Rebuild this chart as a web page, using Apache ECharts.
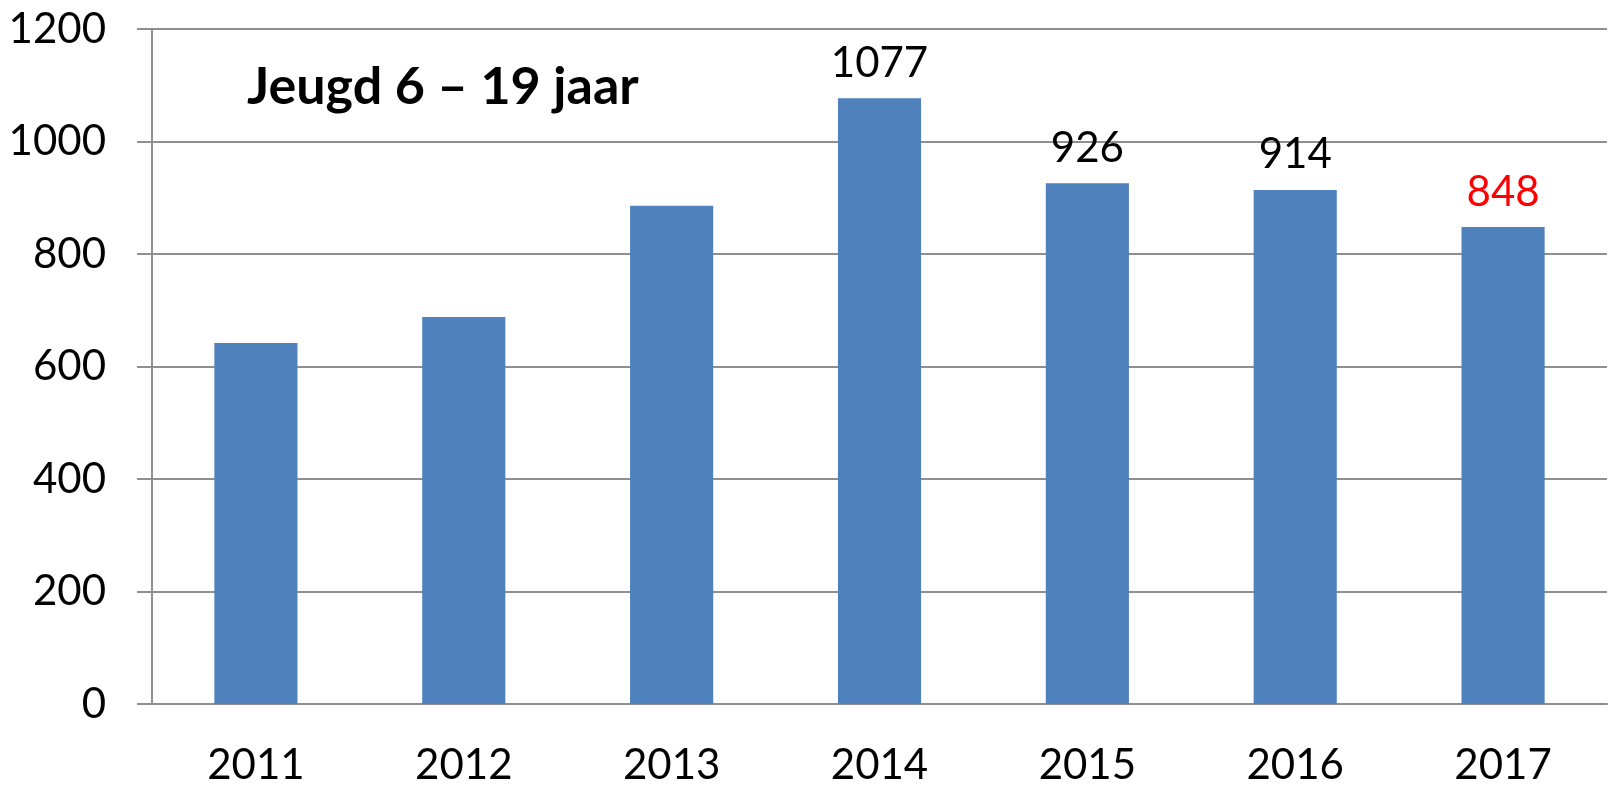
<!DOCTYPE html>
<html>
<head>
<meta charset="utf-8">
<style>
  html, body { margin: 0; padding: 0; background: #fff; }
  #chart { width: 1610px; height: 787px; }
</style>
<script src="https://cdn.jsdelivr.net/npm/echarts@6/dist/echarts.min.js"></script>
</head>
<body>
<div id="chart"></div>
<script>
// chart data
const years = ["2011", "2012", "2013", "2014", "2015", "2016", "2017"];
const members = [642, 688, 886, 1077, 926, 914, 848];
// which bars get a value label, and in which colour
const labelColors = [null, null, null, "#000000", "#000000", "#000000", "#ff0000"];

const font = "Lato, 'Open Sans', sans-serif";
const gridColor = "#8f8f8f";

const chart = echarts.init(document.getElementById("chart"));

chart.setOption({
  animation: false,
  title: {
    text: "Jeugd 6 – 19 jaar",
    left: 242,
    top: 56,
    textStyle: {
      fontFamily: font,
      fontWeight: "bold",
      fontSize: 52,
      color: "#000"
    }
  },
  grid: {
    left: 152,
    right: 3,
    top: 29,
    bottom: 83
  },
  xAxis: {
    type: "category",
    data: years,
    axisLine: { lineStyle: { color: gridColor, width: 2 } },
    axisTick: { length: 15, lineStyle: { color: gridColor, width: 2 } },
    axisLabel: {
      margin: 40,
      fontFamily: font,
      fontSize: 42,
      color: "#000"
    }
  },
  yAxis: {
    type: "value",
    min: 0,
    max: 1200,
    interval: 200,
    axisLine: { show: true, lineStyle: { color: gridColor, width: 2 } },
    axisTick: { show: true, length: 15, lineStyle: { color: gridColor, width: 2 } },
    splitLine: { lineStyle: { color: gridColor, width: 2 } },
    axisLabel: {
      margin: 46,
      fontFamily: font,
      fontSize: 42,
      color: "#000",
      formatter: v => String(v)
    }
  },
  series: [{
    type: "bar",
    barCategoryGap: "60%",
    itemStyle: { color: "#4f81bd" },
    data: members.map((v, i) => ({
      value: v,
      label: {
        show: labelColors[i] !== null,
        position: "top",
        distance: 14,
        fontFamily: font,
        fontSize: 42,
        color: labelColors[i] || "#000"
      }
    }))
  }]
});
</script>
</body>
</html>
